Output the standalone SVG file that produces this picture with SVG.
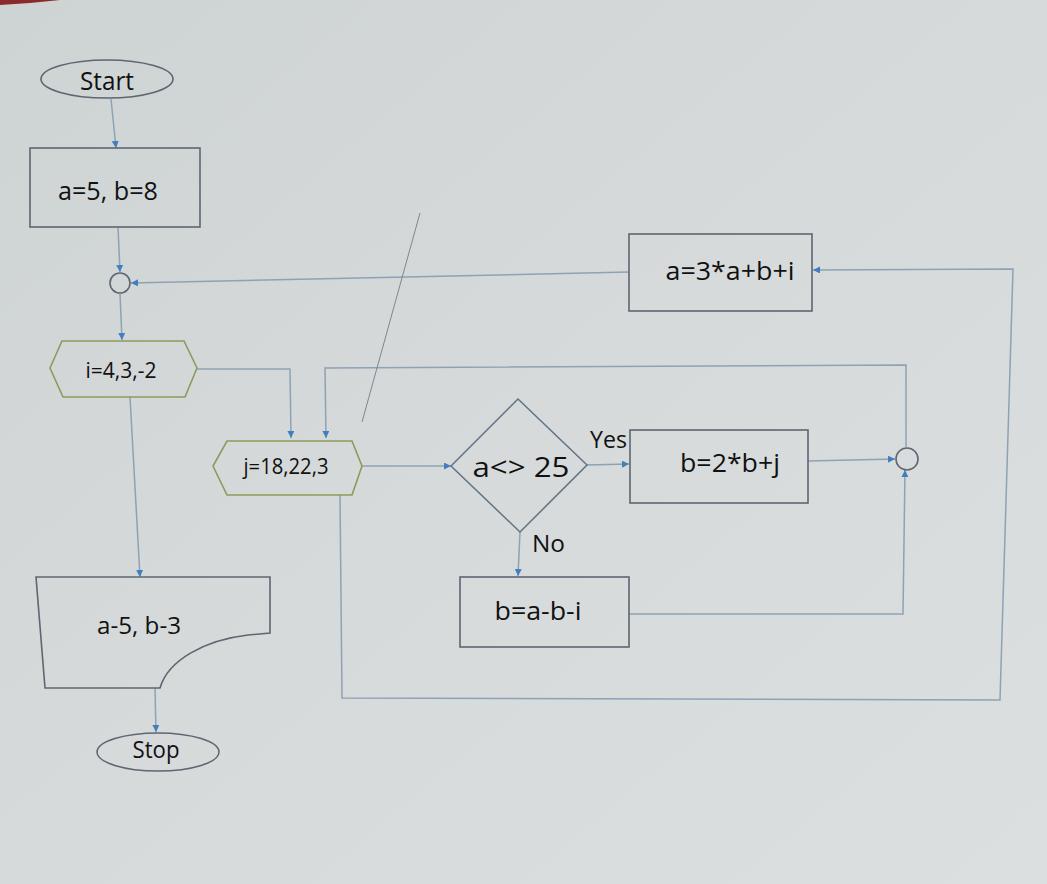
<svg xmlns="http://www.w3.org/2000/svg" width="1047" height="884" viewBox="0 0 1047 884">
<defs>
<linearGradient id="bg" x1="0" y1="0" x2="1" y2="1">
<stop offset="0" stop-color="#ced3d4"/>
<stop offset="0.5" stop-color="#d6dadb"/>
<stop offset="1" stop-color="#dcdfe0"/>
</linearGradient>
<marker id="arr" viewBox="0 0 10 10" refX="10" refY="5" markerWidth="7" markerHeight="7" orient="auto" markerUnits="userSpaceOnUse">
<path d="M0,0 L10,5 L0,10 z" fill="#3f7fc0"/>
</marker>
<style>
.box{fill:none;stroke:#5d6772;stroke-width:1.6}
.hex{fill:none;stroke:#8e9a5c;stroke-width:1.6}
.dia{fill:none;stroke:#5f7484;stroke-width:1.5}
.con{fill:none;stroke:#8ea2b4;stroke-width:1.5}
.lbl{font-family:"Open Sans","Liberation Sans",sans-serif;fill:#111;text-anchor:middle}
.side{font-family:"Open Sans","Liberation Sans",sans-serif;fill:#111}
</style>
</defs>
<rect width="1047" height="884" fill="url(#bg)"/>
<path d="M0,0 L60,0 L30,3 L0,5 z" fill="#8a2a2a"/>

<g id="connectors">
<line class="con" x1="111" y1="99" x2="116" y2="148" marker-end="url(#arr)"/>
<line class="con" x1="118" y1="227" x2="120" y2="272" marker-end="url(#arr)"/>
<line class="con" x1="629" y1="272" x2="131" y2="283" marker-end="url(#arr)"/>
<line class="con" x1="120" y1="294" x2="122" y2="340" marker-end="url(#arr)"/>
<polyline class="con" points="197,369 290,369 291,438" marker-end="url(#arr)"/>
<polyline class="con" points="906,447 906,365 325,368 326,438" marker-end="url(#arr)"/>
<line class="con" x1="362" y1="466" x2="451" y2="466" marker-end="url(#arr)"/>
<line class="con" x1="587" y1="465" x2="629" y2="464" marker-end="url(#arr)"/>
<line class="con" x1="520" y1="532" x2="518" y2="576" marker-end="url(#arr)"/>
<line class="con" x1="808" y1="461" x2="895" y2="459" marker-end="url(#arr)"/>
<polyline class="con" points="629,614 903,614 905,470" marker-end="url(#arr)"/>
<polyline class="con" points="340,495 342,698 1000,700 1013,269 813,270" marker-end="url(#arr)"/>
<line class="con" x1="130" y1="397" x2="140" y2="577" marker-end="url(#arr)"/>
<line class="con" x1="155" y1="688" x2="156" y2="732" marker-end="url(#arr)"/>
<line x1="420" y1="213" x2="362" y2="422" stroke="#7d8790" stroke-width="1"/>
</g>

<g id="start">
<ellipse class="box" cx="107" cy="79" rx="66" ry="19"/>
<text class="lbl" x="107" y="90" font-size="26" textLength="54" lengthAdjust="spacingAndGlyphs">Start</text>
</g>
<g id="init">
<rect class="box" x="30" y="148" width="170" height="79"/>
<text class="lbl" x="108" y="200" font-size="26" textLength="100" lengthAdjust="spacingAndGlyphs">a=5, b=8</text>
</g>
<g id="merge1">
<circle class="box" cx="120" cy="283" r="10"/>
</g>
<g id="loop-i">
<polygon class="hex" points="50,368 62,341 184,341 197,368 185,397 63,397"/>
<text class="lbl" x="121" y="378" font-size="22" textLength="71" lengthAdjust="spacingAndGlyphs">i=4,3,-2</text>
</g>
<g id="loop-j">
<polygon class="hex" points="213,466 227,441 352,441 362,466 352,495 227,495"/>
<text class="lbl" x="286" y="474" font-size="22" textLength="85" lengthAdjust="spacingAndGlyphs">j=18,22,3</text>
</g>
<g id="decision">
<polygon class="dia" points="451,466 518,399 587,465 520,532"/>
<text class="lbl" x="521" y="477" font-size="27" textLength="97" lengthAdjust="spacingAndGlyphs">a&lt;&gt; 25</text>
<text class="side" x="590" y="448" font-size="23" textLength="37" lengthAdjust="spacingAndGlyphs">Yes</text>
<text class="side" x="532" y="552" font-size="23" textLength="33" lengthAdjust="spacingAndGlyphs">No</text>
</g>
<g id="yes-box">
<rect class="box" x="630" y="430" width="178" height="73"/>
<text class="lbl" x="730" y="472" font-size="25" textLength="100" lengthAdjust="spacingAndGlyphs">b=2*b+j</text>
</g>
<g id="no-box">
<rect class="box" x="460" y="577" width="169" height="70"/>
<text class="lbl" x="538" y="620" font-size="25" textLength="87" lengthAdjust="spacingAndGlyphs">b=a-b-i</text>
</g>
<g id="merge2">
<circle class="box" cx="907" cy="459" r="11"/>
</g>
<g id="update-a">
<rect class="box" x="629" y="234" width="183" height="77"/>
<text class="lbl" x="730" y="280" font-size="25" textLength="129" lengthAdjust="spacingAndGlyphs">a=3*a+b+i</text>
</g>
<g id="output">
<path class="box" d="M36,577 L270,577 L270,633 L248,635 C205,640 168,660 160,688 L45,688 Z"/>
<text class="lbl" x="139" y="634" font-size="24" textLength="84" lengthAdjust="spacingAndGlyphs">a-5, b-3</text>
</g>
<g id="stop">
<ellipse class="box" cx="158" cy="752" rx="61" ry="19"/>
<text class="lbl" x="156" y="758" font-size="24" textLength="47" lengthAdjust="spacingAndGlyphs">Stop</text>
</g>
</svg>
